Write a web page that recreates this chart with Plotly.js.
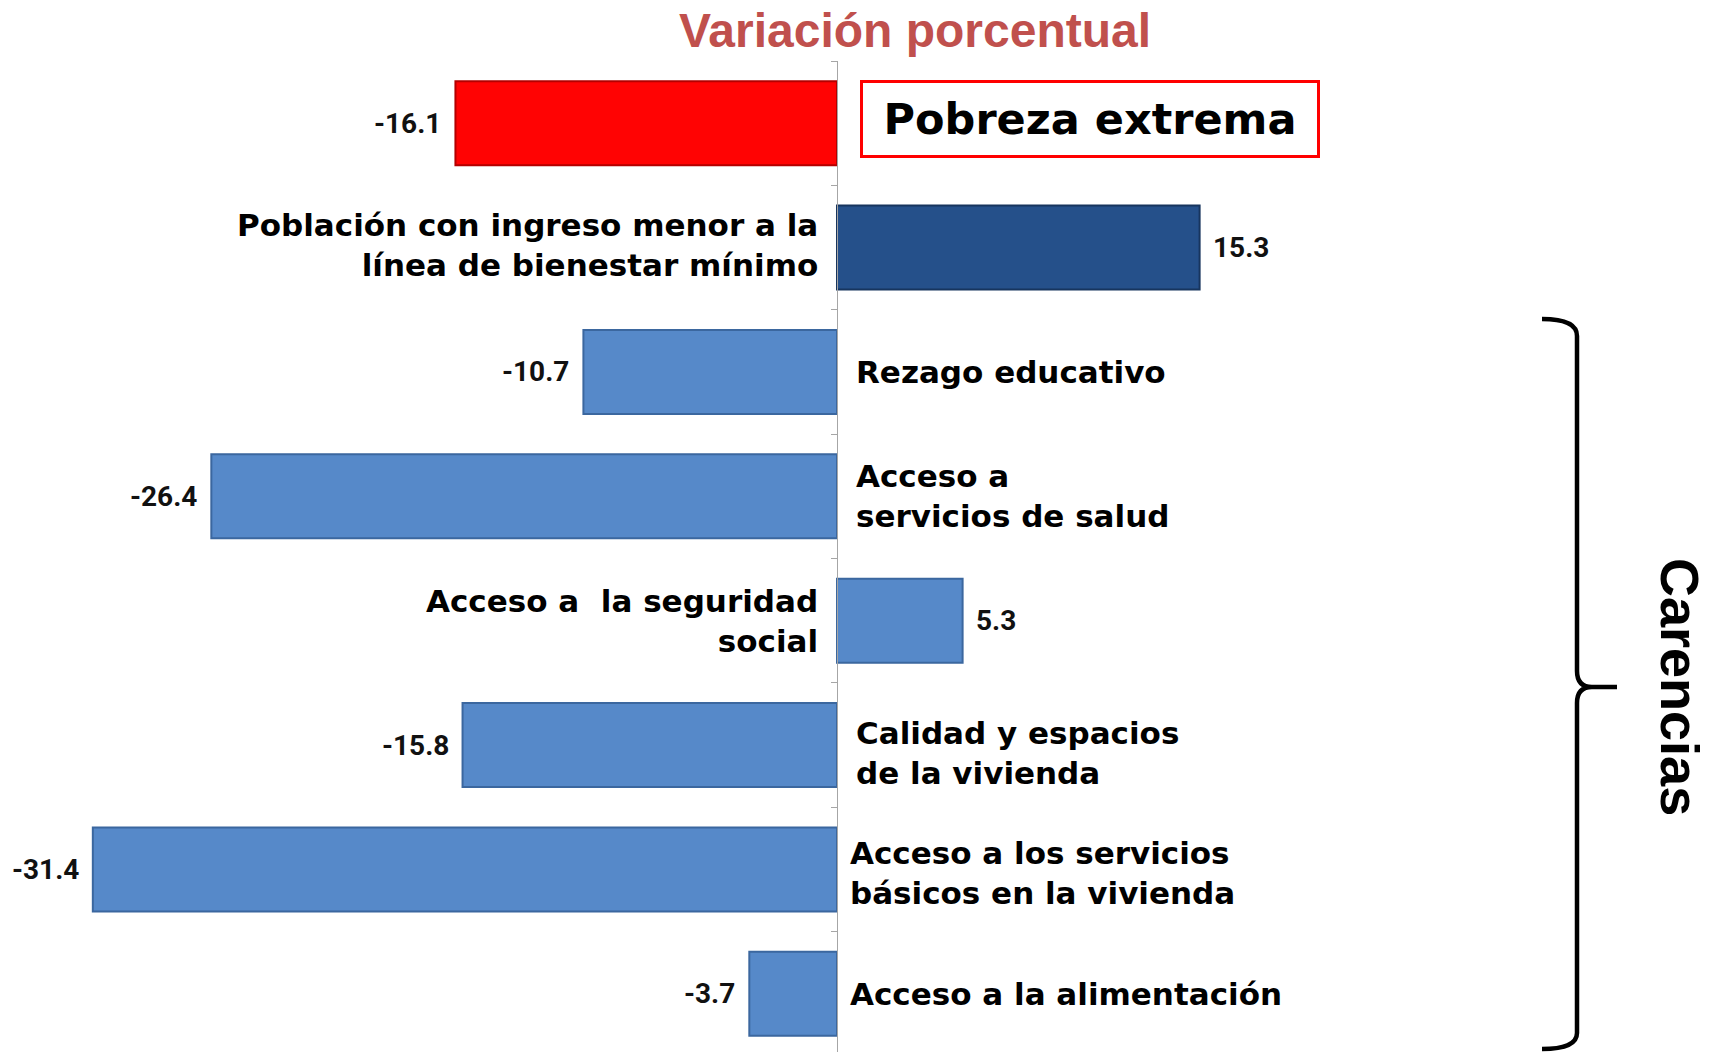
<!DOCTYPE html>
<html>
<head>
<meta charset="utf-8">
<script src="https://cdn.plot.ly/plotly-3.0.1.min.js"></script>
<style>
  html, body { margin: 0; padding: 0; background: #ffffff; }
  #chart { width: 1709px; height: 1052px; }
</style>
</head>
<body>
<div id="chart"></div>
<script>
// ---- data ----
const categories = [
  "Pobreza extrema",
  "Población con ingreso menor a la<br>línea de bienestar mínimo",
  "Rezago educativo",
  "Acceso a<br>servicios de salud",
  "Acceso a \u00a0la seguridad<br>social",
  "Calidad y espacios<br>de la vivienda",
  "Acceso a los servicios<br>básicos en la vivienda",
  "Acceso a la alimentación"
];
const values = [-16.1, 15.3, -10.7, -26.4, 5.3, -15.8, -31.4, -3.7];
const chartTitle = "Variación porcentual";
const groupLabel = "Carencias";

// ---- styles ----
const fillColors = ["#FF0303", "#25508A", "#5689C9", "#5689C9", "#5689C9", "#5689C9", "#5689C9", "#5689C9"];
const edgeColors = ["#B40000", "#17355E", "#3B679F", "#3B679F", "#3B679F", "#3B679F", "#3B679F", "#3B679F"];

const W = 1709, H = 1052;
const zeroPx = 837, pxPerUnit = 23.7;
const plotTop = 61;
const xRange = [-zeroPx / pxPerUnit, (W - zeroPx) / pxPerUnit];

const px = x => x / W;
const py = y => (H - y) / (H - plotTop);

const labelFont = { family: "DejaVu Sans", size: 31, color: "#000000", weight: "bold" };
const valueFont = { family: "Roboto", size: 28, color: "#111111", weight: "bold" };

const annotations = [];
values.forEach((v, i) => {
  // value labels
  annotations.push({
    x: v, y: categories[i], xref: "x", yref: "y",
    text: v.toFixed(1), showarrow: false,
    xanchor: v < 0 ? "right" : "left",
    xshift: v < 0 ? -12 : 11,
    font: valueFont
  });
  if (i === 0) return;
  const neg = v < 0;
  const late = i >= 6;
  annotations.push({
    x: 0, y: categories[i], xref: "x", yref: "y",
    text: categories[i], showarrow: false,
    xanchor: neg ? "left" : "right",
    align: neg ? "left" : "right",
    xshift: neg ? (late ? 11 : 17) : -17,
    yshift: i === 5 ? -8 : (i === 6 ? -4 : (i === 1 ? 3 : 0)),
    font: labelFont
  });
});

// boxed label for the first category
annotations.push({
  x: 0, y: categories[0], xref: "x", yref: "y",
  text: categories[0], showarrow: false,
  xanchor: "left", xshift: 23, yshift: 4,
  width: 452, height: 70, borderpad: 1,
  bordercolor: "#FF0000", borderwidth: 3,
  align: "center",
  font: { family: "DejaVu Sans", size: 43, color: "#000000", weight: "bold" }
});

// group label
annotations.push({
  x: px(1680), y: py(687), xref: "paper", yref: "paper",
  text: groupLabel, showarrow: false, textangle: 90,
  xanchor: "center", yanchor: "middle",
  font: { family: "Liberation Sans", size: 54, color: "#000000", weight: "bold" }
});

// brace path
const P = (x, y) => px(x) + "," + py(y);
const bracePath =
  "M " + P(1542, 319) + " Q " + P(1577, 319) + " " + P(1577, 336) +
  " L " + P(1577, 671) + " Q " + P(1577, 687) + " " + P(1592, 687) +
  " L " + P(1617, 687) +
  " M " + P(1592, 687) + " Q " + P(1577, 687) + " " + P(1577, 703) +
  " L " + P(1577, 1033) + " Q " + P(1577, 1049) + " " + P(1542, 1049);

const trace = {
  type: "bar", orientation: "h",
  x: values, y: categories,
  width: 0.675,
  marker: { color: fillColors, line: { color: edgeColors, width: 2 } },
  hoverinfo: "x+y"
};

const layout = {
  width: W, height: H,
  margin: { l: 0, r: 0, t: plotTop, b: 0, pad: 0 },
  paper_bgcolor: "#ffffff", plot_bgcolor: "#ffffff",
  showlegend: false,
  title: {
    text: chartTitle,
    x: px(915), xanchor: "center",
    y: 1 - 30 / H, yanchor: "middle",
    font: { family: "Liberation Sans", size: 48, color: "#C0504D", weight: "bold" }
  },
  xaxis: {
    range: xRange, visible: false, fixedrange: true, zeroline: false, showgrid: false
  },
  yaxis: {
    type: "category",
    range: [7.5 - 4 / 124.4, -0.5],
    anchor: "free", position: zeroPx / W,
    showline: true, linecolor: "#A6A6A6", linewidth: 1,
    ticks: "outside", tickson: "boundaries", ticklen: 6, tickcolor: "#A6A6A6", tickwidth: 1,
    showticklabels: false, showgrid: false, zeroline: false, fixedrange: true
  },
  annotations: annotations,
  shapes: [{
    type: "path", xref: "paper", yref: "paper",
    path: bracePath,
    line: { color: "#000000", width: 4.5 }
  }]
};

Plotly.newPlot("chart", [trace], layout, { displayModeBar: false, staticPlot: true });
</script>
</body>
</html>
